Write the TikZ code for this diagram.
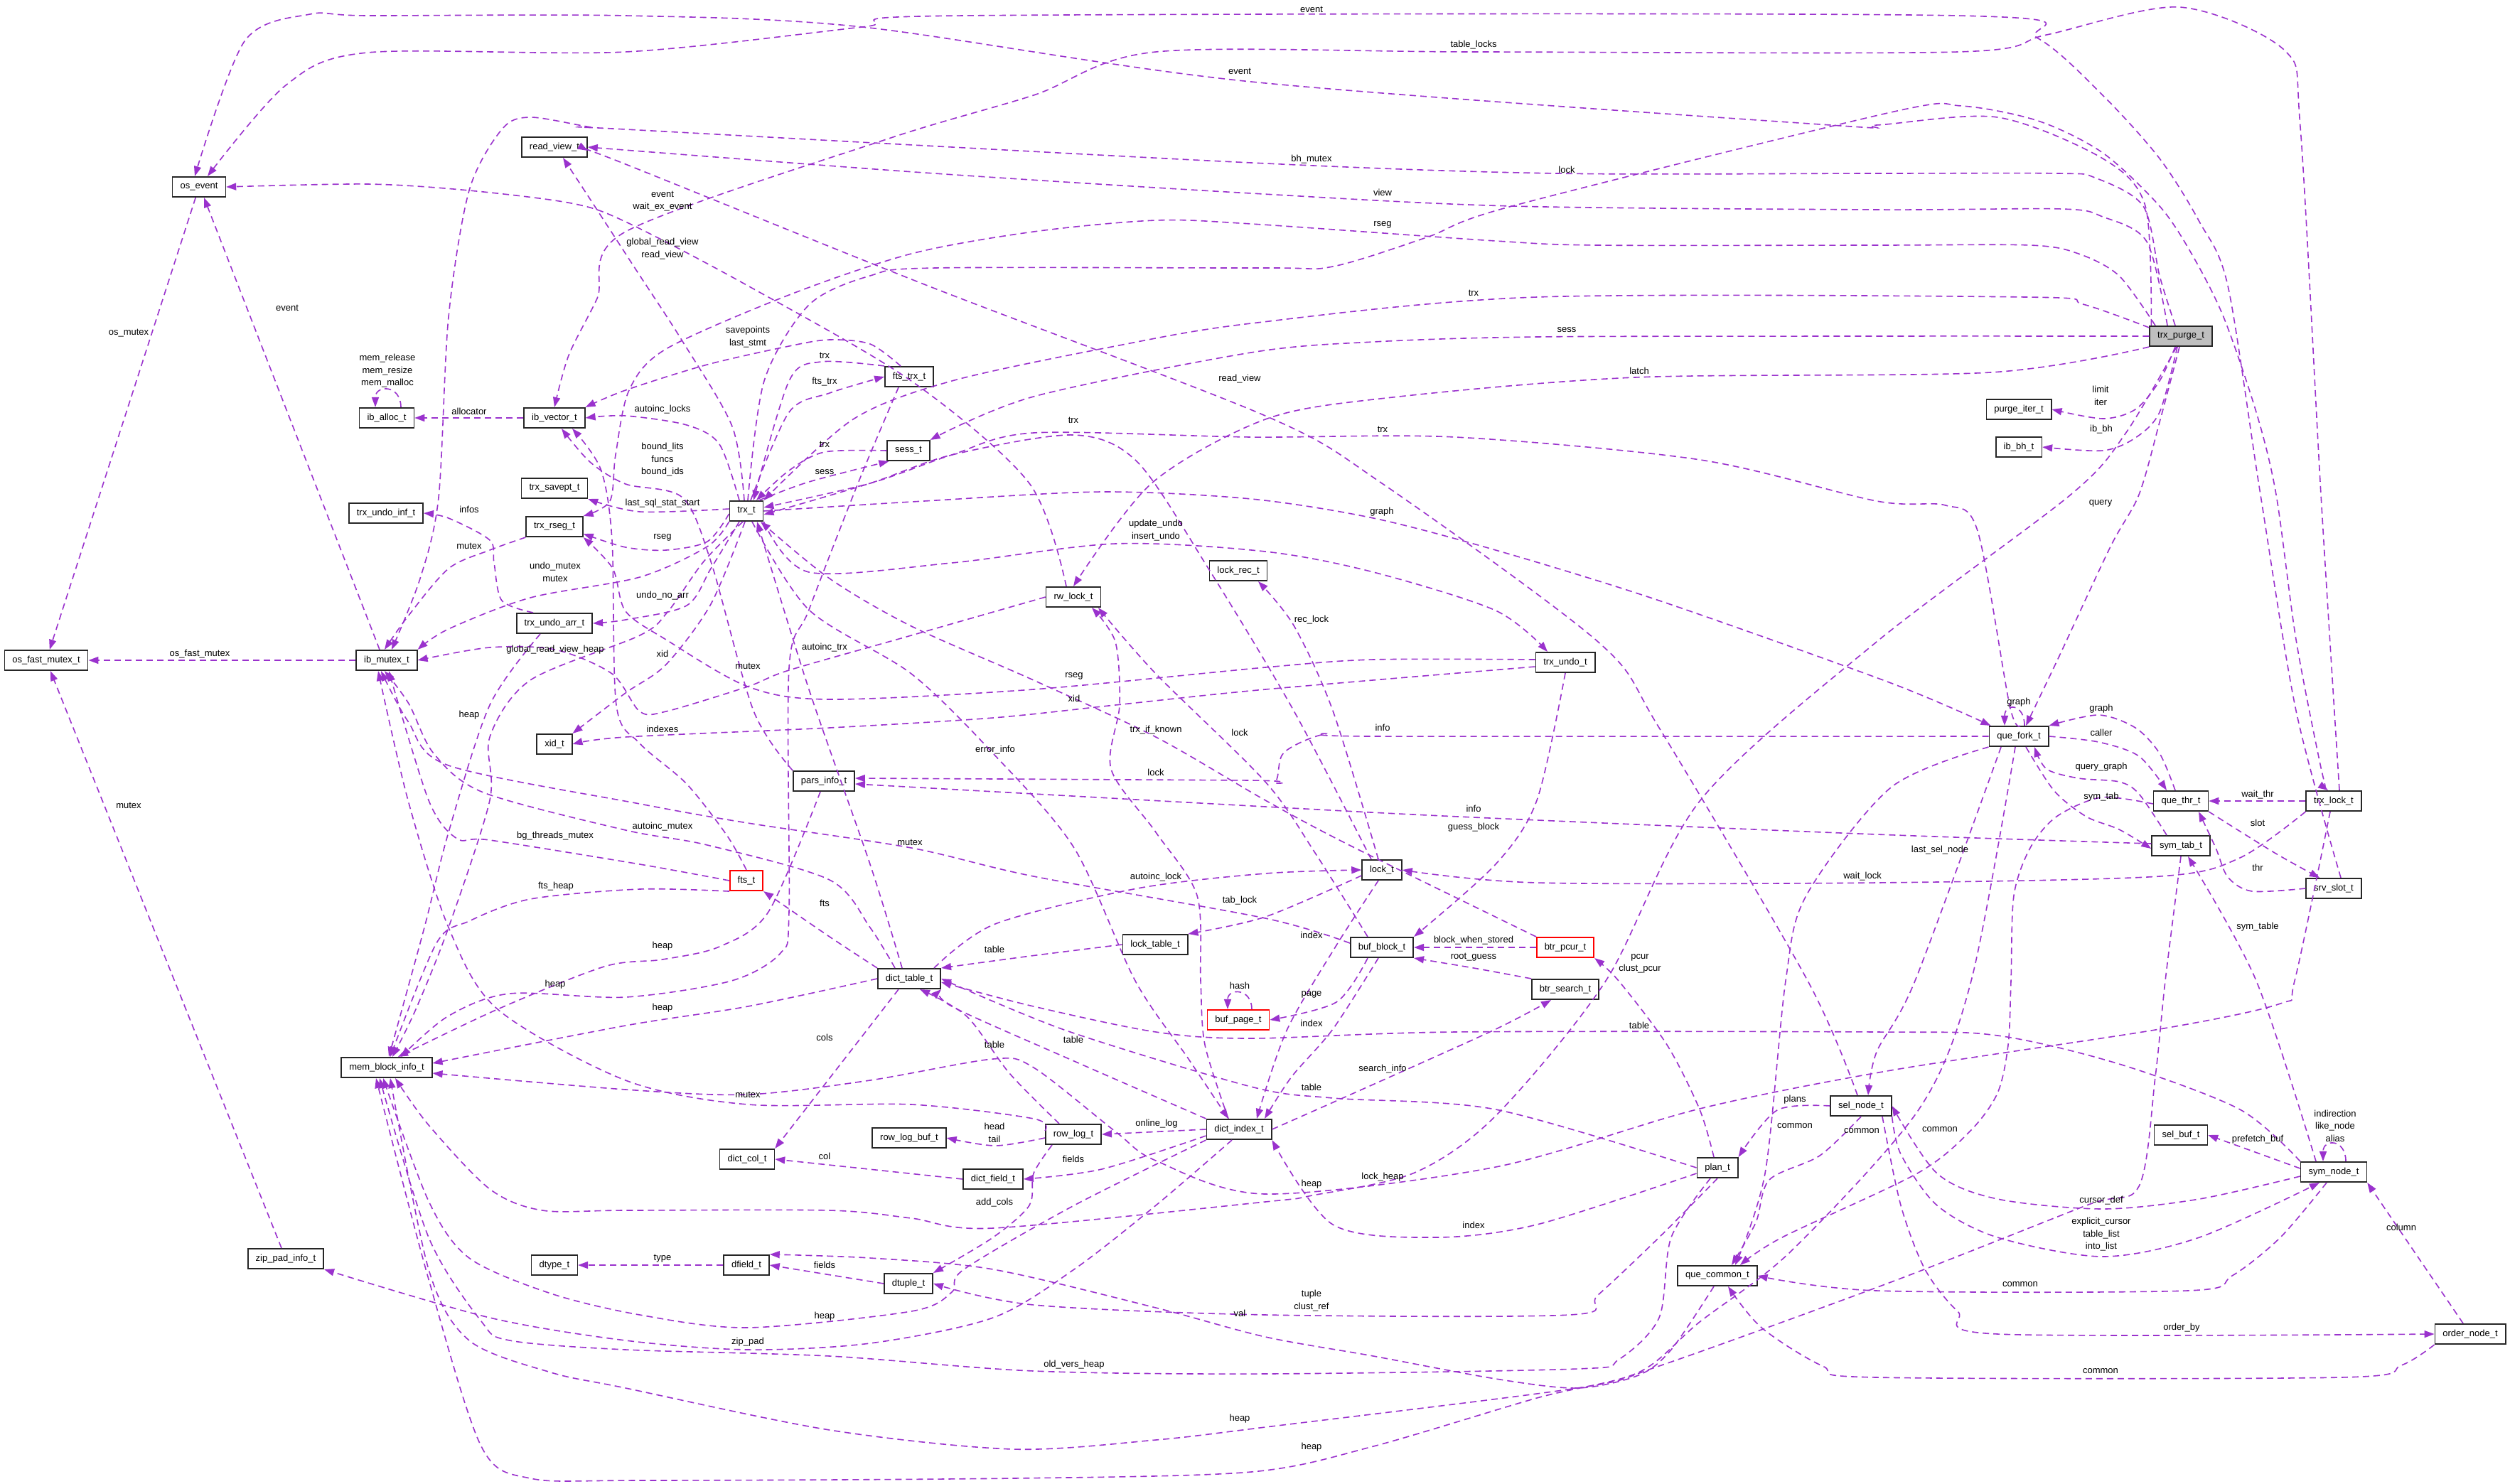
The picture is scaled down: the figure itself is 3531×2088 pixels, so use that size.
\documentclass[tikz,border=0pt]{standalone}
\usepackage{fontspec}
\setmainfont{Liberation Sans}
\usetikzlibrary{arrows.meta,calc}
\definecolor{edgec}{HTML}{9A32CD}
\begin{document}
\begin{tikzpicture}[x=1pt,y=-1pt,
  cls/.style={draw=black!85,line width=1.6pt,fill=white,font=\fontsize{13}{15}\selectfont,inner xsep=11pt,inner ysep=0pt,minimum height=28.5pt},
  tcls/.style={cls,draw=red},
  rcls/.style={cls,fill=black!25},
  memb/.style={draw=edgec,line width=1.6pt,dash pattern=on 9pt off 6pt,-{Triangle[length=14pt,width=10pt,fill=edgec]}},
  lbl/.style={font=\fontsize{13}{17.5}\selectfont,align=center,inner sep=0pt}]
\fill[white] (0,0) rectangle (3531,2088);
\useasboundingbox (0,0) rectangle (3531,2088);
% ---------------- nodes
\node[cls] (osevent) at (280,263) {os\_event};
\node[cls] (rview) at (780,207) {read\_view\_t};
\node[cls] (ialloc) at (544,588) {ib\_alloc\_t};
\node[cls] (ivec) at (780,588) {ib\_vector\_t};
\node[cls] (savept) at (780,687) {trx\_savept\_t};
\node[cls] (undoinf) at (543,722) {trx\_undo\_inf\_t};
\node[cls] (rseg) at (780,741) {trx\_rseg\_t};
\node[cls] (trx) at (1050,719) {trx\_t};
\node[cls] (ftstrx) at (1279,530) {fts\_trx\_t};
\node[cls] (sess) at (1278,634) {sess\_t};
\node[cls] (osfm) at (65,929) {os\_fast\_mutex\_t};
\node[cls] (ibmutex) at (544,929) {ib\_mutex\_t};
\node[cls] (undoarr) at (780,877) {trx\_undo\_arr\_t};
\node[cls] (xid) at (780,1047) {xid\_t};
\node[cls] (rwlock) at (1510,840) {rw\_lock\_t};
\node[cls] (lockrec) at (1742,803) {lock\_rec\_t};
\node[cls] (undo) at (2202,932) {trx\_undo\_t};
\node[cls] (pars) at (1159,1099) {pars\_info\_t};
\node[tcls] (fts) at (1050,1239) {fts\_t};
\node[cls] (dtable) at (1279,1377) {dict\_table\_t};
\node[cls] (locktab) at (1625,1329) {lock\_table\_t};
\node[cls] (lock) at (1944,1224) {lock\_t};
\node[cls] (bblock) at (1944,1333) {buf\_block\_t};
\node[tcls] (pcur) at (2202,1333) {btr\_pcur\_t};
\node[tcls] (bpage) at (1742,1435) {buf\_page\_t};
\node[cls] (bsearch) at (2202,1392) {btr\_search\_t};
\node[cls] (mbi) at (544,1502) {mem\_block\_info\_t};
\node[cls] (dcol) at (1051,1631) {dict\_col\_t};
\node[cls] (rlbuf) at (1279,1601) {row\_log\_buf\_t};
\node[cls] (rlog) at (1510,1596) {row\_log\_t};
\node[cls] (dfieldd) at (1397,1659) {dict\_field\_t};
\node[cls] (dindex) at (1743,1589) {dict\_index\_t};
\node[cls] (dtype) at (780,1780) {dtype\_t};
\node[cls] (dfield) at (1050,1780) {dfield\_t};
\node[cls] (dtuple) at (1278,1806) {dtuple\_t};
\node[cls] (zip) at (402,1771) {zip\_pad\_info\_t};
\node[cls] (plan) at (2416,1643) {plan\_t};
\node[cls] (selnode) at (2618,1556) {sel\_node\_t};
\node[cls] (qcommon) at (2416,1795) {que\_common\_t};
\node[rcls] (purge) at (3068,473) {trx\_purge\_t};
\node[cls] (piter) at (2840,576) {purge\_iter\_t};
\node[cls] (ibbh) at (2840,629) {ib\_bh\_t};
\node[cls] (qfork) at (2840,1036) {que\_fork\_t};
\node[cls] (qthr) at (3068,1127) {que\_thr\_t};
\node[cls] (trxlock) at (3283,1127) {trx\_lock\_t};
\node[cls] (symtab) at (3068,1190) {sym\_tab\_t};
\node[cls] (slot) at (3283,1250) {srv\_slot\_t};
\node[cls] (symnode) at (3283,1649) {sym\_node\_t};
\node[cls] (selbuf) at (3068,1597) {sel\_buf\_t};
\node[cls] (ordernode) at (3475,1877) {order\_node\_t};
% ---------------- edges
\draw[memb] (osevent) -- (osfm);
\draw[memb] (zip) -- (osfm);
\draw[memb] (ibmutex) -- (osfm);
\draw[memb] ([xshift=-10pt]ibmutex.north) -- ([xshift=7pt]osevent.south);
\draw[memb] ([xshift=20pt]ialloc.north) .. controls +(0,-32) and +(0,-32) .. ([xshift=-16pt]ialloc.north);
\draw[memb] (ivec) -- (ialloc);
% trx_purge_t
\draw[memb] plot[smooth,tension=0.5] coordinates {(purge.west) (2600,473) (2162,474) (1932,481) (1760,496) (1454,558) (sess.north east)};
\draw[memb] plot[smooth,tension=0.5] coordinates {([yshift=-3pt]purge.north west) (2930,428) (2850,418) (2162,418) (1760,455) (1569,487) (1339,536) (1200,590) (trx.north east)};
\draw[memb] plot[smooth,tension=0.5] coordinates {(purge.south west) (2800,524) (2300,531) (1950,560) (1780,590) (1620,680) (rwlock.north)};
\draw[memb] plot[smooth,tension=0.5] coordinates {([xshift=-19pt]purge.north) (3020,340) (2958,305) (2900,294) (2640,295) (2127,290) (1760,272) (1300,243) (rview.east)};
\draw[memb] plot[smooth,tension=0.5] coordinates {([xshift=-36pt]purge.north) (2981,388) (2924,357) (2856,345) (2640,345) (2248,345) (2104,339) (1760,315) (1626,310) (1454,326) (1282,357) (1110,415) (937,491) (885,549) (866,640) (858,705) (rseg.north east)};
\draw[memb] plot[smooth,tension=0.5] coordinates {([xshift=-8pt]purge.north) (3038,388) (3015,290) (2947,250) (2896,244) (2640,244) (2190,244) (1760,229) (880,182) (832,179) (746,165) (706,182) (660,268) (631,446) (617,700) (591,814) ([xshift=7pt]ibmutex.north)};
\draw[memb] plot[smooth,tension=0.5] coordinates {([xshift=3pt]purge.north west) (3018,290) (2958,223) (2810,165) (2640,176) (2575,176) (1760,115) (1213,38) (880,22) (517,22) (436,20) (344,58) ([xshift=-6pt]osevent.north)};
\draw[memb] plot[smooth,tension=0.5] coordinates {([xshift=-8pt]purge.south) (3038,536) (3004,576) (2958,589) (piter.east)};
\draw[memb] plot[smooth,tension=0.5] coordinates {([xshift=-5pt]purge.south) (3038,580) (3004,616) (2958,634) (ibbh.east)};
\draw[memb] plot[smooth,tension=0.5] coordinates {([xshift=-2pt]purge.south) (3038,594) (3009,696) (2969,769) (2896,925) ([xshift=10pt]qfork.north)};
\draw[memb] plot[smooth,tension=0.5] coordinates {([xshift=-6pt]purge.south) (2990,610) (2913,696) (2640,903) (2392,1126) (2259,1380) (2104,1570) (1990,1650) (1846,1682) (1780,1691) (1397,1728) (1282,1714) (1167,1703) (880,1703) (763,1703) (689,1673) (603,1583) ([xshift=12pt]mbi.south)};
% trx_t
\draw[memb] plot[smooth,tension=0.5] coordinates {([xshift=2pt]trx.north) (1075,536) (1138,429) (1224,388) (1316,377) (1780,377) (1875,375) (2007,334) (2127,290) (2660,158) (2759,149) (2867,170) (2958,215) (3038,290) (3083,357) (3128,446) (3174,580) (3202,696) (3230,900) (3265,1080) ([xshift=-8pt]trxlock.north)};
\draw[memb] plot[smooth,tension=0.5] coordinates {(trx.south west) (995,769) (900,812) (746,841) (631,885) (ibmutex.north east)};
\draw[memb] plot[smooth,tension=0.5] coordinates {([xshift=-3pt]trx.north) (1030,600) (960,480) (895,380) (830,280) ([xshift=12pt]rview.south)};
\draw[memb] plot[smooth,tension=0.5] coordinates {([xshift=-5pt]trx.south) (990,790) (940,860) (900,894) (746,957) (689,1037) (689,1126) (631,1305) (585,1420) ([xshift=8pt]mbi.north)};
\draw[memb] plot[smooth,tension=0.5] coordinates {([xshift=18pt]trx.north) (1138,678) ([xshift=3pt]sess.south west)};
\draw[memb] plot[smooth,tension=0.5] coordinates {(trx.east) (1300,705) (1550,692) (1760,702) (1932,729) (2104,774) (2334,845) (2660,961) ([xshift=3pt]qfork.north west)};
\draw[memb] plot[smooth,tension=0.5] coordinates {([xshift=8pt]trx.south) (1138,858) (1282,948) (1397,1060) (1511,1193) (1597,1380) (1672,1490) ([xshift=-15pt]dindex.north)};
\draw[memb] plot[smooth,tension=0.5] coordinates {([yshift=-4pt]trx.west) (995,762) (937,774) (880,770) ([yshift=-10pt]rseg.east)};
\draw[memb] plot[smooth,tension=0.5] coordinates {(trx.south east) (1138,805) (1339,792) (1569,765) (1780,776) (1932,805) (2104,859) ([xshift=-25pt]undo.north)};
\draw[memb] plot[smooth,tension=0.5] coordinates {([xshift=-10pt]trx.south) (1000,800) (966,852) (880,872) (undoarr.east)};
\draw[memb] plot[smooth,tension=0.5] coordinates {([yshift=3pt]trx.west) (900,720) (savept.south east)};
\draw[memb] plot[smooth,tension=0.5] coordinates {([xshift=-2pt]trx.south) (1000,850) (937,935) (880,975) (xid.north east)};
\draw[memb] plot[smooth,tension=0.5] coordinates {([xshift=-10pt]trx.north) (1012,625) (966,598) (880,585) (ivec.east)};
\draw[memb] plot[smooth,tension=0.5] coordinates {([xshift=6pt]trx.north) (1110,580) (1167,553) (ftstrx.west)};
% fts_trx_t, sess_t
\draw[memb] plot[smooth,tension=0.5] coordinates {(ftstrx.north west) (1155,509) (1110,536) ([xshift=10pt]trx.north)};
\draw[memb] plot[smooth,tension=0.5] coordinates {([xshift=-12pt]ftstrx.north) (1224,484) (1167,478) (1110,487) (995,513) (880,549) (ivec.north east)};
\draw[memb] plot[smooth,tension=0.5] coordinates {([xshift=-15pt]ftstrx.south) (1207,680) (1138,858) (1110,940) (1110,1283) (1098,1341) (1029,1380) (880,1403) (717,1398) (630,1430) ([xshift=20pt]mbi.north)};
\draw[memb] plot[smooth,tension=0.5] coordinates {(sess.west) (1160,636) (1110,662) ([xshift=14pt]trx.north)};
% pars_info_t, fts_t
\draw[memb] plot[smooth,tension=0.5] coordinates {(pars.north west) (1060,1000) (1000,790) (960,700) (880,681) (830,650) ([xshift=10pt]ivec.south)};
\draw[memb] plot[smooth,tension=0.5] coordinates {([xshift=-5pt]pars.south) (1081,1283) (1012,1332) (932,1350) (850,1360) (700,1420) ([xshift=16pt]mbi.north)};
\draw[memb] plot[smooth,tension=0.5] coordinates {(fts.north) (1023,1176) (966,1103) (900,1046) (867,992) (861,760) (845,660) ([xshift=25pt]ivec.south)};
\draw[memb] plot[smooth,tension=0.5] coordinates {(fts.west) (900,1216) (689,1182) (643,1180) (603,1126) ([xshift=3pt]ibmutex.south)};
\draw[memb] plot[smooth,tension=0.5] coordinates {(fts.south west) (900,1251) (746,1265) (660,1296) (614,1327) ([xshift=5pt]mbi.north)};
% dict_table_t
\draw[memb] plot[smooth,tension=0.5] coordinates {([xshift=-20pt]dtable.north) (1224,1305) (1167,1238) (995,1189) (880,1168) (680,1115) (610,1060) (575,990) ([xshift=-3pt]ibmutex.south)};
\draw[memb] plot[smooth,tension=0.5] coordinates {([xshift=-10pt]dtable.north) (1224,1216) (1138,970) ([xshift=15pt]trx.south)};
\draw[memb] plot[smooth,tension=0.5] coordinates {(dtable.north west) (1167,1318) (fts.south east)};
\draw[memb] ([xshift=-15pt]dtable.south) -- (dcol.north east);
\draw[memb] plot[smooth,tension=0.5] coordinates {(dtable.west) (1052,1416) (880,1443) ([yshift=6pt]mbi.east)};
\draw[memb] plot[smooth,tension=0.5] coordinates {([xshift=-10pt]dtable.north east) (1400,1300) (1600,1250) (1780,1229) (lock.west)};
% buf_block_t mutex and locks
\draw[memb] plot[smooth,tension=0.5] coordinates {([yshift=6pt]bblock.west) (1780,1292) (1454,1233) (1282,1193) (1052,1158) (900,1131) (631,1077) (574,1015) ([xshift=-8pt]ibmutex.south)};
\draw[memb] plot[smooth,tension=0.5] coordinates {(locktab.west) (1450,1345) (dtable.north east)};
\draw[memb] plot[smooth,tension=0.5] coordinates {([yshift=-8pt]lock.west) (1780,1290) (locktab.north east)};
\draw[memb] plot[smooth,tension=0.5] coordinates {([xshift=-5pt]lock.north) (1875,1000) (1820,880) ([xshift=28pt]lockrec.south)};
\draw[memb] plot[smooth,tension=0.5] coordinates {([xshift=-5pt]lock.south) (1880,1330) (1810,1450) ([xshift=25pt]dindex.north)};
\draw[memb] plot[smooth,tension=0.5] coordinates {([xshift=-15pt]lock.north) (1820,1000) (1700,800) (1600,650) (1510,612) (1339,640) (1224,680) ([yshift=-5pt]trx.east)};
% rw_lock_t
\draw[memb] plot[smooth,tension=0.5] coordinates {([xshift=-10pt]rwlock.north) (1448,680) (1282,536) (1052,402) (880,312) (804,286) (660,268) (517,259) (osevent.east)};
\draw[memb] plot[smooth,tension=0.5] coordinates {(rwlock.west) (1282,894) (1110,943) (1052,966) (937,1001) (900,1001) (861,948) (781,914) (689,911) (ibmutex.east)};
\draw[memb] plot[smooth,tension=0.5] coordinates {([xshift=-20pt]bblock.north) (1850,1200) (1780,1100) (1626,948) ([xshift=35pt]rwlock.south)};
\draw[memb] plot[smooth,tension=0.5] coordinates {([xshift=-15pt]dindex.north) (1695,1470) (1689,1380) (1684,1260) (1626,1171) (1563,1082) (1575,992) (1569,903) ([xshift=26pt]rwlock.south)};
% trx_undo_t
\draw[memb] plot[smooth,tension=0.5] coordinates {([yshift=4pt]undo.west) (1932,928) (1780,939) (1454,970) (1167,984) (1052,966) (937,900) (880,860) (862,800) (rseg.south east)};
\draw[memb] plot[smooth,tension=0.5] coordinates {([yshift=-6pt]undo.west) (1780,970) (1569,992) (1397,1010) (1167,1024) (880,1037) (xid.east)};
\draw[memb] plot[smooth,tension=0.5] coordinates {(undo.south) (2162,1126) (2104,1216) (bblock.north east)};
% trx_undo_arr_t, trx_rseg_t
\draw[memb] plot[smooth,tension=0.5] coordinates {([xshift=-30pt]undoarr.north) (706,845) (695,792) (689,760) (631,729) (undoinf.east)};
\draw[memb] plot[smooth,tension=0.5] coordinates {([xshift=-20pt]undoarr.south) (689,992) (631,1171) (597,1305) ([xshift=3pt]mbi.north)};
\draw[memb] plot[smooth,tension=0.5] coordinates {(rseg.south west) (689,774) (631,800) (574,867) ([xshift=-3pt]ibmutex.north)};
% buf / btr
\draw[memb] (pcur.west) -- (bblock.east);
\draw[memb] plot[smooth,tension=0.5] coordinates {(bsearch.north west) (2073,1362) (bblock.south east)};
\draw[memb] plot[smooth,tension=0.5] coordinates {([xshift=-20pt]bblock.south) (1880,1410) (bpage.east)};
\draw[memb] plot[smooth,tension=0.5] coordinates {([xshift=-5pt]bblock.south) (1875,1448) (1817,1515) ([xshift=36pt]dindex.north)};
\draw[memb] ([xshift=19pt]bpage.north) .. controls +(0,-30) and +(0,-30) .. ([xshift=-15pt]bpage.north);
\draw[memb] plot[smooth,tension=0.5] coordinates {(pcur.north west) (1900,1190) (1780,1126) (1626,1037) (1454,957) (1282,881) (1167,814) ([xshift=20pt]trx.south)};
% dict_index_t
\draw[memb] (dindex.west) -- (rlog.east);
\draw[memb] plot[smooth,tension=0.5] coordinates {([yshift=-9pt]dindex.west) (1550,1645) (dfieldd.east)};
\draw[memb] plot[smooth,tension=0.5] coordinates {(dindex.north west) (1511,1493) (1339,1416) (dtable.south east)};
\draw[memb] plot[smooth,tension=0.5] coordinates {(dindex.east) (1900,1540) (2100,1450) ([xshift=-20pt]bsearch.south)};
\draw[memb] plot[smooth,tension=0.5] coordinates {(dindex.south west) (1511,1696) (1356,1786) (1339,1818) (1282,1845) (1052,1868) (900,1850) (775,1820) (660,1770) (603,1690) ([xshift=-5pt]mbi.south)};
\draw[memb] plot[smooth,tension=0.5] coordinates {([xshift=-10pt]dindex.south) (1626,1696) (1511,1786) (1397,1854) (1224,1890) (1052,1899) (880,1886) (689,1854) (zip.south east)};
% row_log_t etc
\draw[memb] plot[smooth,tension=0.5] coordinates {([xshift=-20pt]rlog.north) (1420,1510) (1360,1430) ([xshift=15pt]dtable.south)};
\draw[memb] plot[smooth,tension=0.5] coordinates {([yshift=-5pt]rlog.west) (1400,1612) (rlbuf.east)};
\draw[memb] plot[smooth,tension=0.5] coordinates {([xshift=-30pt]rlog.south) (1454,1651) (1448,1696) (1397,1741) (dtuple.north east)};
\draw[memb] plot[smooth,tension=0.5] coordinates {([yshift=5pt]rlog.west) (1454,1574) (1282,1554) (1052,1554) (880,1520) (700,1420) (631,1305) (574,1126) ([xshift=-12pt]ibmutex.south)};
\draw[memb] (dfieldd.west) -- (dcol.east);
\draw[memb] (dtuple.west) -- (dfield.east);
\draw[memb] (dfield.west) -- (dtype.east);
% plan_t
\draw[memb] plot[smooth,tension=0.5] coordinates {(plan.west) (2104,1561) (1875,1545) (1760,1529) (1500,1450) (dtable.east)};
\draw[memb] plot[smooth,tension=0.5] coordinates {([yshift=-8pt]plan.west) (2162,1723) (2018,1741) (1875,1723) (dindex.south east)};
\draw[memb] plot[smooth,tension=0.5] coordinates {([xshift=-5pt]plan.north) (2391,1561) (2345,1470) (2277,1380) (pcur.south east)};
\draw[memb] plot[smooth,tension=0.5] coordinates {(plan.south) (2334,1741) (2248,1822) (2208,1850) (1780,1850) (1454,1836) (dtuple.east)};
\draw[memb] plot[smooth,tension=0.5] coordinates {([xshift=-10pt]plan.south) (2351,1741) (2334,1854) (2277,1913) (2219,1926) (1780,1933) (1454,1929) (1167,1908) (880,1899) (717,1886) (677,1859) (603,1741) ([xshift=-10pt]mbi.south)};
% sel_node_t
\draw[memb] plot[smooth,tension=0.5] coordinates {(selnode.west) (2500,1562) (plan.north east)};
\draw[memb] plot[smooth,tension=0.5] coordinates {([xshift=-5pt]selnode.north) (2543,1380) (2334,1024) (2248,903) (1944,680) (1780,585) (1300,400) (880,231) ([yshift=-5pt]rview.east)};
\draw[memb] plot[smooth,tension=0.5] coordinates {(selnode.south) (2560,1626) (2489,1660) (2470,1720) ([xshift=20pt]qcommon.north)};
\draw[memb] plot[smooth,tension=0.5] coordinates {(selnode.south east) (2674,1624) (2725,1696) (2810,1741) (2958,1768) (3094,1741) ([xshift=-20pt]symnode.south)};
\draw[memb] plot[smooth,tension=0.5] coordinates {([xshift=30pt]selnode.south) (2674,1696) (2708,1786) (2754,1845) (2810,1877) (ordernode.west)};
% sym_node_t
\draw[memb] plot[smooth,tension=0.5] coordinates {([yshift=-6pt]symnode.west) (3094,1687) (2958,1701) (2810,1687) (2725,1651) (selnode.east)};
\draw[memb] plot[smooth,tension=0.5] coordinates {([xshift=-10pt]symnode.south) (3208,1741) (3140,1795) (3077,1816) (2640,1816) (qcommon.east)};
\draw[memb] plot[smooth,tension=0.5] coordinates {(symnode.north west) (3151,1561) (2981,1497) (2810,1457) (2640,1452) (2047,1452) (1760,1461) (1626,1452) (1454,1416) ([yshift=-5pt]dtable.east)};
\draw[memb] plot[smooth,tension=0.5] coordinates {([yshift=5pt]symnode.west) (selbuf.east)};
\draw[memb] plot[smooth,tension=0.5] coordinates {([xshift=-25pt]symnode.north) (3174,1380) ([xshift=10pt]symtab.south)};
\draw[memb] ([xshift=17pt]symnode.north) .. controls +(0,-32) and +(0,-32) .. ([xshift=-15pt]symnode.north);
\draw[memb] ([xshift=-10pt]ordernode.north) -- (symnode.south east);
\draw[memb] plot[smooth,tension=0.5] coordinates {(ordernode.south west) (3378,1921) (3293,1938) (2640,1938) (2564,1922) (2478,1868) ([xshift=15pt]qcommon.south)};
% que_*
\draw[memb] ([xshift=8pt]qfork.north) .. controls +(0,-32) and +(0,-32) .. ([xshift=-20pt]qfork.north);
\draw[memb] plot[smooth,tension=0.5] coordinates {([xshift=2pt]qfork.north) (2827,992) (2782,747) (2737,711) (2640,705) (2392,647) (2047,615) (1760,615) (1454,609) (1339,640) (1224,680) ([yshift=5pt]trx.east)};
\draw[memb] plot[smooth,tension=0.5] coordinates {(qfork.east) (2952,1044) (3009,1064) ([xshift=-20pt]qthr.north)};
\draw[memb] plot[smooth,tension=0.5] coordinates {([xshift=-8pt]qthr.north) (3038,1060) (3004,1024) (2952,1006) (qfork.north east)};
\draw[memb] plot[smooth,tension=0.5] coordinates {([xshift=10pt]qfork.south) (2890,1113) (2935,1149) (2981,1167) ([yshift=-4pt]symtab.west)};
\draw[memb] plot[smooth,tension=0.5] coordinates {([xshift=-20pt]symtab.north) (3009,1117) (2981,1100) (2924,1095) (2879,1082) ([xshift=22pt]qfork.south)};
\draw[memb] plot[smooth,tension=0.5] coordinates {(qfork.west) (1932,1036) (1863,1033) (1806,1059) (1794,1100) (1760,1098) ([yshift=4pt]pars.east)};
\draw[memb] plot[smooth,tension=0.5] coordinates {([yshift=3pt]symtab.west) (2640,1174) (2073,1150) (1780,1135) ([yshift=-4pt]pars.east)};
\draw[memb] plot[smooth,tension=0.5] coordinates {([xshift=-25pt]qfork.south) (2694,1380) (2640,1480) ([xshift=10pt]selnode.north)};
\draw[memb] plot[smooth,tension=0.5] coordinates {(qfork.south west) (2660,1108) (2541,1260) (2512,1380) (2483,1651) ([xshift=25pt]qcommon.north)};
\draw[memb] plot[smooth,tension=0.5] coordinates {([xshift=-5pt]qfork.south) (2773,1380) (2700,1560) (2520,1760) (2391,1860) (2305,1931) (2162,1967) (1932,2035) (1760,2071) (1425,2080) (900,2083) (746,2080) (677,2035) (603,1800) ([xshift=-15pt]mbi.south)};
\draw[memb] plot[smooth,tension=0.5] coordinates {([yshift=-4pt]qthr.west) (2956,1122) (2893,1149) (2856,1193) (2833,1260) (2829,1380) (2825,1470) (2810,1538) (2771,1592) (2697,1651) (2507,1741) ([xshift=32pt]qcommon.north)};
\draw[memb] plot[smooth,tension=0.5] coordinates {(qthr.south east) (3200,1200) ([xshift=-20pt]slot.north)};
\draw[memb] plot[smooth,tension=0.5] coordinates {(slot.west) (3168,1254) (3134,1234) (3117,1193) ([xshift=25pt]qthr.south)};
\draw[memb] (trxlock.west) -- (qthr.east);
\draw[memb] plot[smooth,tension=0.5] coordinates {(trxlock.south west) (3151,1207) (3038,1233) (2640,1242) (2162,1242) (lock.east)};
\draw[memb] plot[smooth,tension=0.5] coordinates {([xshift=8pt]trxlock.north) (3265,696) (3236,179) (3214,71) (3066,10) (2879,49) (2754,73) (2073,73) (1626,73) (1454,134) (1247,196) (880,326) (840,420) (800,500) (ivec.north)};
\draw[memb] plot[smooth,tension=0.5] coordinates {([xshift=-5pt]trxlock.south) (3228,1380) (3208,1412) (3038,1448) (2660,1506) (2391,1560) (2104,1642) (1780,1680) (1626,1633) (1569,1592) (1454,1502) (1397,1490) (1224,1520) (1052,1540) (880,1533) ([yshift=-8pt]mbi.east)};
\draw[memb] plot[smooth,tension=0.5] coordinates {([xshift=10pt]slot.north) (3230,1000) (3179,690) (3134,402) (3094,312) (3038,223) (2958,134) (2867,54) (2754,22) (1356,22) (1213,38) (880,73) (517,74) (402,120) ([xshift=12pt]osevent.north)};
\draw[memb] plot[smooth,tension=0.5] coordinates {([xshift=-5pt]qcommon.south) (2351,1899) (2305,1935) (2219,1953) (2104,1940) (1932,1908) (1780,1881) (1626,1840) (1397,1786) (1224,1770) (dfield.north east)};
\draw[memb] plot[smooth,tension=0.5] coordinates {(symtab.south) (3046,1380) (3032,1515) (3009,1669) (2935,1696) (2660,1804) (2334,1922) (2219,1953) (1780,2008) (1626,2026) (1425,2039) (1167,2012) (880,1953) (775,1931) (660,1886) (603,1786) ([xshift=5pt]mbi.south)};
% ---------------- labels
\node[lbl] (l1) at (181,469) {os\_mutex};
\node[lbl] (l2) at (181,1133) {mutex};
\node[lbl] (l3) at (281,920) {os\_fast\_mutex};
\node[lbl] (l4) at (404,433) {event};
\node[lbl] (l5) at (545,522) {mem\_release\\mem\_resize\\mem\_malloc};
\node[lbl] (l6) at (660,579) {allocator};
\node[lbl] (l7) at (2204,464) {sess};
\node[lbl] (l8) at (2073,412) {trx};
\node[lbl] (l9) at (2306,522) {latch};
\node[lbl] (l10) at (1945,271) {view};
\node[lbl] (l11) at (1945,316) {rseg};
\node[lbl] (l12) at (1845,224) {bh\_mutex};
\node[lbl] (l13) at (1744,100) {event};
\node[lbl] (l14) at (2955,557) {limit\\iter};
\node[lbl] (l15) at (2956,604) {ib\_bh};
\node[lbl] (l16) at (2955,708) {query};
\node[lbl] (l17) at (1845,1666) {heap};
\node[lbl] (l18) at (2204,239) {lock};
\node[lbl] (l19) at (781,805) {undo\_mutex\\mutex};
\node[lbl] (l20) at (932,350) {global\_read\_view\\read\_view};
\node[lbl] (l21) at (781,914) {global\_read\_view\_heap};
\node[lbl] (l22) at (1160,664) {sess};
\node[lbl] (l23) at (1944,720) {graph};
\node[lbl] (l24) at (1400,1055) {error\_info};
\node[lbl] (l25) at (932,756) {rseg};
\node[lbl] (l26) at (1626,746) {update\_undo\\insert\_undo};
\node[lbl] (l27) at (932,838) {undo\_no\_arr};
\node[lbl] (l28) at (932,708) {last\_sql\_stat\_start};
\node[lbl] (l29) at (932,920) {xid};
\node[lbl] (l30) at (932,576) {autoinc\_locks};
\node[lbl] (l31) at (1160,537) {fts\_trx};
\node[lbl] (l32) at (1160,500) {trx};
\node[lbl] (l33) at (1052,474) {savepoints\\last\_stmt};
\node[lbl] (l34) at (781,1385) {heap};
\node[lbl] (l35) at (1160,625) {trx};
\node[lbl] (l36) at (932,647) {bound\_lits\\funcs\\bound\_ids};
\node[lbl] (l37) at (932,1026) {indexes};
\node[lbl] (l38) at (932,1331) {heap};
\node[lbl] (l39) at (781,1176) {bg\_threads\_mutex};
\node[lbl] (l40) at (782,1247) {fts\_heap};
\node[lbl] (l41) at (932,1163) {autoinc\_mutex};
\node[lbl] (l42) at (1280,1185) {mutex};
\node[lbl] (l43) at (1160,911) {autoinc\_trx};
\node[lbl] (l44) at (1160,1271) {fts};
\node[lbl] (l45) at (1160,1460) {cols};
\node[lbl] (l46) at (932,1418) {heap};
\node[lbl] (l47) at (1626,1234) {autoinc\_lock};
\node[lbl] (l48) at (1399,1336) {table};
\node[lbl] (l49) at (1744,1267) {tab\_lock};
\node[lbl] (l50) at (1845,872) {rec\_lock};
\node[lbl] (l51) at (1845,1316) {index};
\node[lbl] (l52) at (1510,591) {trx};
\node[lbl] (l53) at (932,283) {event\\wait\_ex\_event};
\node[lbl] (l54) at (1052,937) {mutex};
\node[lbl] (l55) at (1744,1031) {lock};
\node[lbl] (l56) at (1626,1087) {lock};
\node[lbl] (l57) at (1511,951) {rseg};
\node[lbl] (l58) at (1511,983) {xid};
\node[lbl] (l59) at (2073,1164) {guess\_block};
\node[lbl] (l60) at (660,717) {infos};
\node[lbl] (l61) at (660,1006) {heap};
\node[lbl] (l62) at (660,768) {mutex};
\node[lbl] (l63) at (2073,1323) {block\_when\_stored};
\node[lbl] (l64) at (2073,1347) {root\_guess};
\node[lbl] (l65) at (1845,1399) {page};
\node[lbl] (l66) at (1845,1440) {index};
\node[lbl] (l67) at (1744,1387) {hash};
\node[lbl] (l68) at (1626,1027) {trx\_if\_known};
\node[lbl] (l69) at (1627,1581) {online\_log};
\node[lbl] (l70) at (1510,1631) {fields};
\node[lbl] (l71) at (1510,1463) {table};
\node[lbl] (l72) at (1945,1504) {search\_info};
\node[lbl] (l73) at (1160,1852) {heap};
\node[lbl] (l74) at (1052,1888) {zip\_pad};
\node[lbl] (l75) at (1399,1470) {table};
\node[lbl] (l76) at (1399,1594) {head\\tail};
\node[lbl] (l77) at (1399,1692) {add\_cols};
\node[lbl] (l78) at (1052,1540) {mutex};
\node[lbl] (l79) at (1160,1627) {col};
\node[lbl] (l80) at (1160,1780) {fields};
\node[lbl] (l81) at (932,1771) {type};
\node[lbl] (l82) at (1845,1530) {table};
\node[lbl] (l83) at (2073,1724) {index};
\node[lbl] (l84) at (2307,1356) {pcur\\clust\_pcur};
\node[lbl] (l85) at (1845,1830) {tuple\\clust\_ref};
\node[lbl] (l86) at (1511,1920) {old\_vers\_heap};
\node[lbl] (l87) at (2525,1547) {plans};
\node[lbl] (l88) at (1744,533) {read\_view};
\node[lbl] (l89) at (2619,1591) {common};
\node[lbl] (l90) at (2956,1737) {explicit\_cursor\\table\_list\\into\_list};
\node[lbl] (l91) at (3069,1868) {order\_by};
\node[lbl] (l92) at (2956,1689) {cursor\_def};
\node[lbl] (l93) at (2842,1807) {common};
\node[lbl] (l94) at (2306,1443) {table};
\node[lbl] (l95) at (3176,1603) {prefetch\_buf};
\node[lbl] (l96) at (3176,1304) {sym\_table};
\node[lbl] (l97) at (3285,1584) {indirection\\like\_node\\alias};
\node[lbl] (l98) at (3378,1727) {column};
\node[lbl] (l99) at (2955,1929) {common};
\node[lbl] (l100) at (2840,988) {graph};
\node[lbl] (l101) at (1945,604) {trx};
\node[lbl] (l102) at (2956,1031) {caller};
\node[lbl] (l103) at (2956,997) {graph};
\node[lbl] (l104) at (2956,1121) {sym\_tab};
\node[lbl] (l105) at (2956,1079) {query\_graph};
\node[lbl] (l106) at (1945,1024) {info};
\node[lbl] (l107) at (2073,1138) {info};
\node[lbl] (l108) at (2729,1196) {last\_sel\_node};
\node[lbl] (l109) at (2525,1584) {common};
\node[lbl] (l110) at (1845,2036) {heap};
\node[lbl] (l111) at (2729,1589) {common};
\node[lbl] (l112) at (3176,1158) {slot};
\node[lbl] (l113) at (3176,1221) {thr};
\node[lbl] (l114) at (3176,1118) {wait\_thr};
\node[lbl] (l115) at (2620,1233) {wait\_lock};
\node[lbl] (l116) at (2073,63) {table\_locks};
\node[lbl] (l117) at (1945,1656) {lock\_heap};
\node[lbl] (l118) at (1845,13) {event};
\node[lbl] (l119) at (1744,1848) {val};
\node[lbl] (l120) at (1744,1996) {heap};
\end{tikzpicture}
\end{document}
